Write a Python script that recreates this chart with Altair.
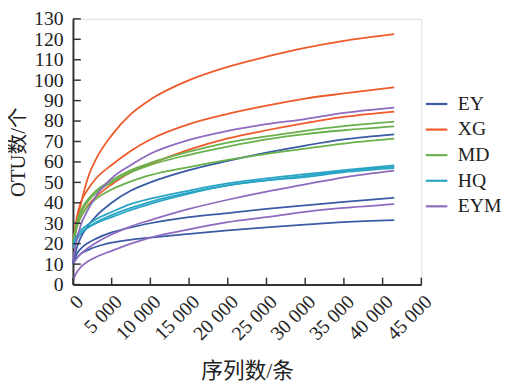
import altair as alt
import pandas as pd

# sequence depth (x) sample points
x_vals = [0, 500, 1000, 2000, 3000, 5000, 7500, 10000, 15000, 20000, 25000, 30000, 35000, 41500]

groups = ["EY", "XG", "MD", "HQ", "EYM"]
colors = ["#3a5ba5", "#ef5a2a", "#6ab04c", "#2aa5c5", "#8e6bbf"]

EY_1 = [10, 18, 23, 29, 33.5, 40, 46, 50, 56, 60.5, 64.5, 68, 71, 73.5]
EY_2 = [10, 15, 17.5, 20.5, 22.5, 25.5, 28, 30, 33, 35, 37, 38.8, 40.5, 42.5]
EY_3 = [10, 13, 15, 17, 18.5, 20.5, 22, 23, 24.8, 26.5, 28, 29.3, 30.5, 31.5]

XG_1 = [18, 30, 39, 53, 61.5, 73, 83.5, 90.5, 100, 106.5, 111.5, 115.8, 119.2, 122.5]
XG_2 = [20, 33, 40, 47, 52, 58.5, 65.5, 71, 78.5, 83.5, 87.5, 91, 93.5, 96.5]
XG_3 = [20, 28, 33, 39, 43, 49, 55, 59, 66, 71.5, 75.5, 79, 82, 84.6]

MD_1 = [20, 30, 36, 42, 46, 51, 56, 59.5, 65, 69.5, 72.5, 75.2, 77.5, 79.7]
MD_2 = [20, 30, 35, 41, 45, 50, 55, 58.5, 63.5, 67.5, 71, 73.6, 75.5, 77.4]
MD_3 = [20, 28, 33, 38.5, 42, 46.5, 50.5, 53.5, 57.5, 61, 64, 66.5, 69, 71.4]

HQ_1 = [20, 24, 26.5, 29.5, 32, 35.5, 39.5, 42, 46, 49.5, 52, 54, 56, 58.3]
HQ_2 = [18, 22, 25, 28, 30.5, 34, 37.5, 40.5, 45, 48.5, 51, 53.2, 55.5, 57.7]
HQ_3 = [19, 22.5, 25, 28, 30, 33, 36.5, 39.5, 44.5, 48.5, 51, 52.6, 55, 57]

EYM_1 = [12, 22, 29, 37, 43.5, 52, 58.5, 64, 70.8, 75.2, 78.5, 81, 84, 86.6]
EYM_2 = [10, 13, 15, 18, 20.5, 24.5, 28.5, 31.5, 37, 41.5, 45.5, 49, 52.5, 55.8]
EYM_3 = [2, 6, 8.5, 11.5, 13.5, 16.5, 20, 23, 27, 30.5, 33, 35.6, 37.5, 39.4]

series = {
    ("EY", 1): EY_1, ("EY", 2): EY_2, ("EY", 3): EY_3,
    ("XG", 1): XG_1, ("XG", 2): XG_2, ("XG", 3): XG_3,
    ("MD", 1): MD_1, ("MD", 2): MD_2, ("MD", 3): MD_3,
    ("HQ", 1): HQ_1, ("HQ", 2): HQ_2, ("HQ", 3): HQ_3,
    ("EYM", 1): EYM_1, ("EYM", 2): EYM_2, ("EYM", 3): EYM_3,
}

y_ticks = list(range(0, 131, 10))
x_ticks = list(range(0, 45001, 5000))

rows = []
for (g, i), vals in series.items():
    for xv, yv in zip(x_vals, vals):
        rows.append({"x": xv, "otu": yv, "group": g, "sample": f"{g}{i}"})
df = pd.DataFrame(rows)

FONT = "Liberation Serif, Noto Sans CJK SC"

x_scale = alt.Scale(domain=[0, 45000], nice=False)
y_scale = alt.Scale(domain=[0, 130], nice=False)

x_axis = alt.Axis(
    title="序列数/条", values=x_ticks, ticks=False, grid=False,
    labelAngle=-45, labelAlign="right", labelBaseline="top", labelPadding=7,
    labelOffset=0, labelFlush=False,
    labelExpr="replace(format(datum.value, ','), ',', ' ')",
    labelFont=FONT, labelFontSize=20, labelColor="#222",
    titleFont=FONT, titleFontSize=22, titleFontWeight="normal", titleColor="#222",
    titlePadding=17, domainColor="#333", domainWidth=2, labelOverlap=False,
)
y_axis = alt.Axis(
    title="OTU数/个", values=y_ticks, ticks=False, grid=False,
    labelPadding=10, labelFont=FONT, labelFontSize=20, labelColor="#222",
    titleFont=FONT, titleFontSize=21, titleFontWeight="normal", titleColor="#222",
    titlePadding=5, domainColor="#333", domainWidth=2, labelOverlap=False,
    labelFlush=False,
)

lines = alt.Chart(df).mark_line(strokeWidth=1.8, interpolate="monotone").encode(
    x=alt.X("x:Q", scale=x_scale, axis=x_axis),
    y=alt.Y("otu:Q", scale=y_scale, axis=y_axis),
    color=alt.Color(
        "group:N",
        scale=alt.Scale(domain=groups, range=colors),
        legend=alt.Legend(
            title=None, orient="none", legendX=357, legendY=74,
            symbolType="stroke", symbolSize=480, symbolStrokeWidth=2.2,
            labelFont=FONT, labelFontSize=20, labelColor="#222",
            labelOffset=9, rowPadding=3,
        ),
    ),
    detail="sample:N",
)

ydf = pd.DataFrame({"v": y_ticks})
xdf = pd.DataFrame({"v": x_ticks})

PLOT_H = 270

ytick_layer = alt.Chart(ydf).mark_rule(color="#333", strokeWidth=1.5).encode(
    y=alt.Y("v:Q", scale=y_scale, axis=y_axis),
    x=alt.value(0), x2=alt.value(8),
)
xtick_layer = alt.Chart(xdf).mark_rule(color="#333", strokeWidth=1.5).encode(
    x=alt.X("v:Q", scale=x_scale, axis=x_axis),
    y=alt.value(PLOT_H), y2=alt.value(PLOT_H - 7),
)

chart = alt.layer(lines, ytick_layer, xtick_layer).properties(
    width=354, height=PLOT_H,
    autosize=alt.AutoSizeParams(type="none"),
    padding={"left": 66, "top": 8, "right": 83, "bottom": 98},
).configure_view(stroke=None).configure(background="white")

chart.save("out.html", embed_options={"renderer": "svg", "actions": False})
